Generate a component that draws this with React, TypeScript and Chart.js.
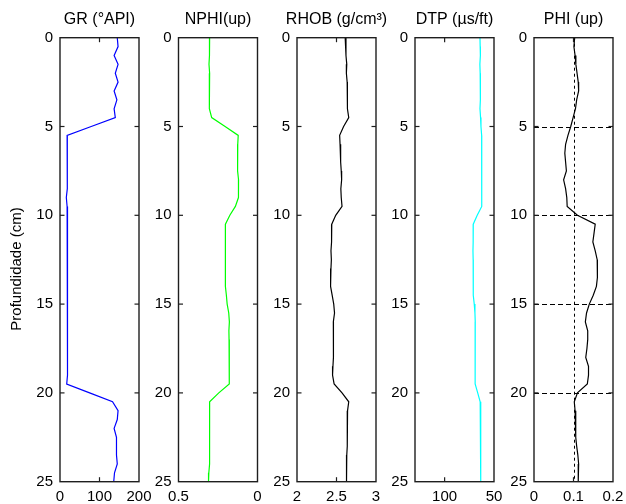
import React, { useEffect, useRef } from 'react';
import { Chart, registerables } from 'chart.js';
Chart.register(...registerables);

const DEPTH = [0, 0.5, 1, 1.5, 2, 2.5, 3, 3.5, 4, 4.5, 5, 5.5, 6, 6.5, 7, 7.5, 8, 8.5, 9, 9.5, 10, 10.5, 11, 11.5, 12, 12.5, 13, 13.5, 14, 14.5, 15, 15.5, 16, 16.5, 17, 17.5, 18, 18.5, 19, 19.5, 20, 20.5, 21, 21.5, 22, 22.5, 23, 23.5, 24, 24.5, 25];

const GR = [145, 147, 137, 147, 140, 147, 137, 144, 137, 140, 79, 18, 19, 19, 18, 18, 19, 18, 16, 18, 19, 19, 19, 19, 19, 19, 19, 19, 19, 19, 19, 19, 19, 19, 19, 19, 19, 19, 19, 17, 75, 133, 147, 145, 137, 143, 144, 142, 145, 138, 136];
const NPHI = [0.303, 0.305, 0.303, 0.307, 0.303, 0.305, 0.306, 0.303, 0.305, 0.29, 0.205, 0.122, 0.125, 0.127, 0.124, 0.127, 0.12, 0.118, 0.123, 0.14, 0.175, 0.203, 0.205, 0.203, 0.203, 0.205, 0.205, 0.2, 0.202, 0.197, 0.192, 0.182, 0.178, 0.181, 0.18, 0.18, 0.178, 0.177, 0.178, 0.18, 0.245, 0.303, 0.303, 0.305, 0.303, 0.304, 0.303, 0.302, 0.303, 0.308, 0.31];
const RHOB = [2.61, 2.62, 2.62, 2.63, 2.625, 2.635, 2.635, 2.64, 2.64, 2.655, 2.59, 2.54, 2.545, 2.55, 2.555, 2.56, 2.565, 2.555, 2.56, 2.57, 2.49, 2.44, 2.435, 2.44, 2.43, 2.435, 2.43, 2.42, 2.43, 2.445, 2.465, 2.475, 2.46, 2.46, 2.46, 2.465, 2.46, 2.455, 2.45, 2.47, 2.57, 2.655, 2.64, 2.64, 2.635, 2.635, 2.635, 2.63, 2.625, 2.63, 2.625];
const DTP = [64.2, 64.0, 63.8, 64.3, 64.0, 63.6, 64.0, 63.8, 64.2, 63.6, 63.2, 62.5, 62.4, 62.6, 62.3, 62.5, 62.2, 62.4, 62.3, 62.6, 67, 71, 71.2, 71.0, 71.3, 71.1, 71.0, 71.2, 71.0, 70.8, 70.0, 69.3, 69.0, 69.2, 69.0, 69.1, 69.2, 69.0, 69.2, 69.0, 66.5, 64.0, 63.5, 63.4, 63.5, 63.4, 63.5, 63.3, 63.5, 63.4, 63.4];
const PHI = [0.103, 0.101, 0.104, 0.106, 0.109, 0.112, 0.113, 0.108, 0.105, 0.099, 0.093, 0.086, 0.08, 0.078, 0.08, 0.082, 0.075, 0.08, 0.083, 0.084, 0.11, 0.155, 0.152, 0.149, 0.155, 0.16, 0.161, 0.16, 0.158, 0.15, 0.14, 0.133, 0.13, 0.136, 0.136, 0.134, 0.131, 0.138, 0.138, 0.135, 0.11, 0.102, 0.104, 0.105, 0.106, 0.106, 0.108, 0.111, 0.113, 0.112, 0.112];

const DEPTH_TICKS = [0, 5, 10, 15, 20, 25];
const GR_TICKS = [0, 100, 200];
const NPHI_TICKS = [0.5, 0];
const RHOB_TICKS = [2, 2.5, 3];
const DTP_TICKS = [100, 50];
const PHI_TICKS = [0, 0.1, 0.2];

const TITLES = ['GR (°API)', 'NPHI(up)', 'RHOB (g/cm³)', 'DTP (µs/ft)', 'PHI (up)'];
const Y_TITLE = 'Profundidade (cm)';

const W = 626;
const H = 504;
const PLOT_W = 79;
const AXIS_W = 35;
const TOP = 37.7;
const BOTTOM_H = 22.3;
const FONT = '"Liberation Sans", Arial, sans-serif';
const FRAME = '#1e1e1e';

type Panel = {
  title: string; values: number[]; color: string; min: number; max: number;
  reverse: boolean; ticks: number[]; left: number; ylabel: boolean; grid: boolean;
};

const PANELS: Panel[] = [
  { title: TITLES[0], values: GR, color: '#0000ff', min: 0, max: 200, reverse: false, ticks: GR_TICKS, left: 60, ylabel: true, grid: false },
  { title: TITLES[1], values: NPHI, color: '#00ff00', min: 0, max: 0.5, reverse: true, ticks: NPHI_TICKS, left: 178.5, ylabel: false, grid: false },
  { title: TITLES[2], values: RHOB, color: '#000000', min: 2, max: 3, reverse: false, ticks: RHOB_TICKS, left: 297, ylabel: false, grid: false },
  { title: TITLES[3], values: DTP, color: '#00ffff', min: 50, max: 130, reverse: true, ticks: DTP_TICKS, left: 415, ylabel: false, grid: false },
  { title: TITLES[4], values: PHI, color: '#000000', min: 0, max: 0.2, reverse: false, ticks: PHI_TICKS, left: 534, ylabel: false, grid: true },
];

const framePlugin = {
  id: 'frame',
  beforeDatasetsDraw(chart: any, _a: any, opts: any) {
    if (!opts.grid) return;
    const { ctx, chartArea: ca, scales } = chart;
    ctx.save();
    ctx.strokeStyle = '#000';
    ctx.lineWidth = 1;
    ctx.setLineDash([5, 3]);
    DEPTH_TICKS.forEach((d) => {
      if (d === 0 || d === 25) return;
      const y = Math.round(scales.y.getPixelForValue(d)) + 0.5;
      ctx.beginPath(); ctx.moveTo(ca.left, y); ctx.lineTo(ca.right, y); ctx.stroke();
    });
    ctx.setLineDash([3, 3]);
    opts.xticks.forEach((v: number) => {
      if (v === opts.min || v === opts.max) return;
      const x = Math.round(scales.x.getPixelForValue(v)) + 0.5;
      ctx.beginPath(); ctx.moveTo(x, ca.top); ctx.lineTo(x, ca.bottom); ctx.stroke();
    });
    ctx.restore();
  },
  afterDatasetsDraw(chart: any, _a: any, opts: any) {
    const { ctx, chartArea: ca, scales } = chart;
    ctx.save();
    ctx.strokeStyle = FRAME;
    ctx.lineWidth = 1.4;
    ctx.setLineDash([]);
    ctx.strokeRect(ca.left, ca.top, ca.right - ca.left, ca.bottom - ca.top);
    const tl = 4.5;
    ctx.lineWidth = 1.2;
    DEPTH_TICKS.forEach((d) => {
      if (d === 0 || d === 25) return;
      const y = scales.y.getPixelForValue(d);
      ctx.beginPath(); ctx.moveTo(ca.left, y); ctx.lineTo(ca.left + tl, y); ctx.stroke();
      ctx.beginPath(); ctx.moveTo(ca.right, y); ctx.lineTo(ca.right - tl, y); ctx.stroke();
    });
    opts.xticks.forEach((v: number) => {
      if (v === opts.min || v === opts.max) return;
      const x = scales.x.getPixelForValue(v);
      ctx.beginPath(); ctx.moveTo(x, ca.top); ctx.lineTo(x, ca.top + tl); ctx.stroke();
      ctx.beginPath(); ctx.moveTo(x, ca.bottom); ctx.lineTo(x, ca.bottom - tl); ctx.stroke();
    });
    ctx.fillStyle = '#000';
    ctx.font = `16px ${FONT}`;
    ctx.textAlign = 'center';
    ctx.textBaseline = 'alphabetic';
    ctx.fillText(opts.title, (ca.left + ca.right) / 2, 24);
    if (opts.ylabel) {
      ctx.translate(17, 269);
      ctx.rotate(-Math.PI / 2);
      ctx.font = `15px ${FONT}`;
      ctx.textBaseline = 'middle';
      ctx.fillText(Y_TITLE, 0, 0);
    }
    ctx.restore();
  },
};

function PanelChart({ p }: { p: Panel }) {
  const ref = useRef<HTMLCanvasElement | null>(null);
  useEffect(() => {
    if (!ref.current) return;
    const font = { family: FONT, size: 15 };
    const chart = new Chart(ref.current, {
      type: 'scatter',
      data: {
        datasets: [{
          data: p.values.map((v, i) => ({ x: v, y: DEPTH[i] })),
          borderColor: p.color,
          backgroundColor: p.color,
          borderWidth: 1.2,
          showLine: true,
          pointRadius: 0,
          tension: 0,
        }],
      },
      options: {
        animation: false,
        responsive: false,
        devicePixelRatio: 1,
        events: [],
        layout: { padding: { left: p.left - AXIS_W, right: W - p.left - PLOT_W, top: TOP, bottom: 0 } },
        plugins: {
          legend: { display: false },
          tooltip: { enabled: false },
          frame: { title: p.title, ylabel: p.ylabel, grid: p.grid, xticks: p.ticks, min: p.min, max: p.max },
        } as any,
        scales: {
          x: {
            type: 'linear', position: 'bottom', min: p.min, max: p.max, reverse: p.reverse,
            afterBuildTicks: (s: any) => { s.ticks = p.ticks.map((v) => ({ value: v })); },
            afterFit: (s: any) => { s.height = BOTTOM_H; s.paddingLeft = 0; s.paddingRight = 0; },
            grid: { display: false, drawTicks: false },
            border: { display: false },
            ticks: { font, color: '#000', padding: 6, maxRotation: 0, autoSkip: false, callback: (v: any) => String(v) },
          },
          y: {
            type: 'linear', min: 0, max: 25, reverse: true,
            afterBuildTicks: (s: any) => { s.ticks = DEPTH_TICKS.map((v) => ({ value: v })); },
            afterFit: (s: any) => { s.width = AXIS_W; s.paddingTop = 0; s.paddingBottom = 0; },
            grid: { display: false, drawTicks: false },
            border: { display: false },
            ticks: { font, color: '#000', padding: 7, autoSkip: false, callback: (v: any) => String(v) },
          },
        },
      } as any,
      plugins: [framePlugin],
    });
    return () => chart.destroy();
  }, [p]);
  return (
    <canvas ref={ref} width={W} height={H}
      style={{ position: 'absolute', left: 0, top: 0, width: W, height: H }} />
  );
}

export default function App() {
  return (
    <div style={{ position: 'fixed', left: 0, top: 0, width: W, height: H, background: '#fff' }}>
      {PANELS.map((p, i) => <PanelChart key={i} p={p} />)}
    </div>
  );
}
